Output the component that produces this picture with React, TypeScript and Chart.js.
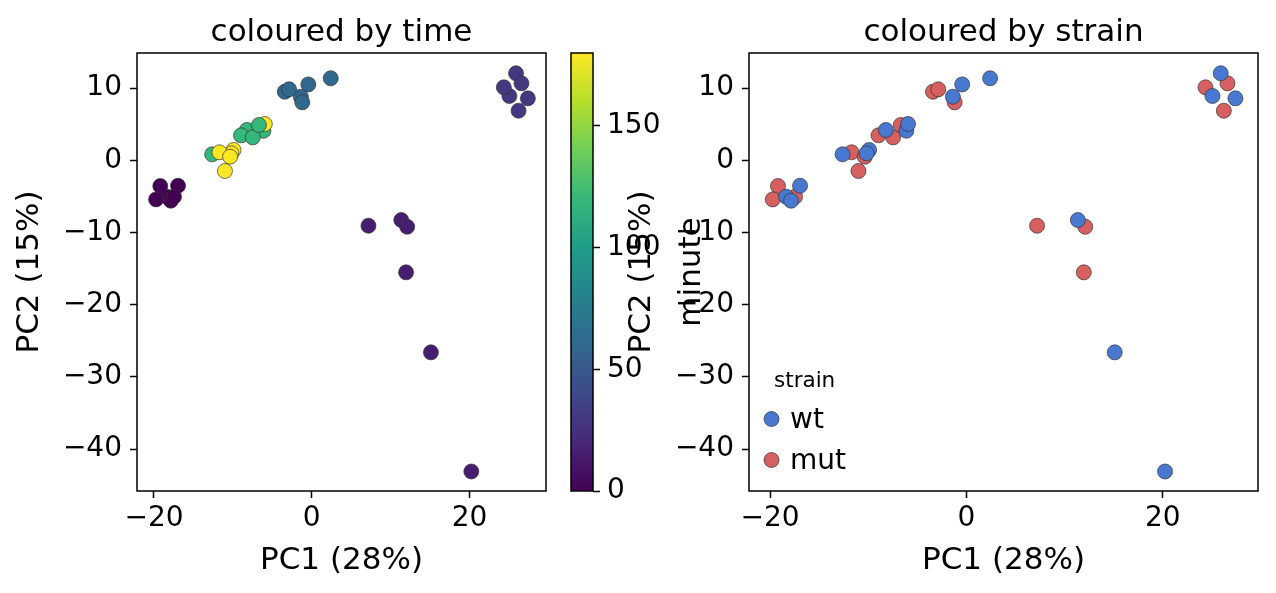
import React, { useEffect, useRef } from "react";
import { Chart, registerables } from "chart.js";

Chart.register(...registerables);

const FONT = "'DejaVu Sans', sans-serif";

// ---- data (36 samples: wt then mut, 3 replicates per time point) ----
const sampleStrain = [
  "wt", "wt", "wt", "wt", "wt", "wt", "wt", "wt", "wt",
  "wt", "wt", "wt", "wt", "wt", "wt", "wt", "wt", "wt",
  "mut", "mut", "mut", "mut", "mut", "mut", "mut", "mut", "mut",
  "mut", "mut", "mut", "mut", "mut", "mut", "mut", "mut", "mut",
];
const sampleMinute = [
  0, 0, 0, 15, 15, 15, 30, 30, 30, 60, 60, 60, 120, 120, 120, 180, 180, 180,
  0, 0, 0, 15, 15, 15, 30, 30, 30, 60, 60, 60, 120, 120, 120, 180, 180, 180,
];
const samplePC1 = [
  -16.95, -18.37, -17.86, 11.35, 15.11, 20.23, 25.9, 25.06, 27.4,
  -0.43, -1.38, 2.41, -12.62, -8.21, -6.12, -5.95, -9.91, -10.18,
  -19.2, -19.73, -17.46, 7.19, 12.1, 11.96, 26.59, 24.35, 26.22,
  -3.41, -2.87, -1.2, -8.96, -7.47, -6.69, -11.7, -10.35, -11.0,
];
const samplePC2 = [
  -3.53, -5.05, -5.6, -8.28, -26.6, -43.1, 12.04, 8.9, 8.57,
  10.5, 8.8, 11.35, 0.82, 4.19, 4.09, 5.02, 1.42, 0.96,
  -3.57, -5.42, -5.05, -9.07, -9.21, -15.52, 10.65, 10.1, 6.86,
  9.49, 9.82, 8.02, 3.45, 3.17, 4.88, 1.1, 0.49, -1.49,
];
const strainNames = ["wt", "mut"];
const strainColors = ["#4878d0", "#d65f5f"];

const xRange = [-22.15, 29.7];
const yRange = [-45.8, 14.85];
const minuteRange = [0, 180];
const xTicks = [-20, 0, 20];
const yTicks = [-40, -30, -20, -10, 0, 10];
const cbarTicks = [0, 50, 100, 150];

const VIRIDIS = ["#440154", "#482878", "#3e4989", "#31688e", "#26828e", "#1f9e89", "#35b779", "#6ece58", "#b5de2b", "#fde725"];

function hexToRgb(h: string) {
  return [parseInt(h.slice(1, 3), 16), parseInt(h.slice(3, 5), 16), parseInt(h.slice(5, 7), 16)];
}
function viridis(t: number) {
  const n = VIRIDIS.length - 1;
  const tt = Math.max(0, Math.min(1, t)) * n;
  const i = Math.min(n - 1, Math.floor(tt));
  const f = tt - i;
  const a = hexToRgb(VIRIDIS[i]);
  const b = hexToRgb(VIRIDIS[i + 1]);
  const c = a.map((v, k) => Math.round(v + (b[k] - v) * f));
  return `rgb(${c[0]},${c[1]},${c[2]})`;
}

const fmt = (v: number) => (v < 0 ? "\u2212" + Math.abs(v) : String(v));

const TICK_SIZE = 28;
const LABEL_SIZE = 31;
const TITLE_SIZE = 31;

const framePlugin = {
  id: "frame",
  afterDraw(chart: any) {
    const { ctx, chartArea: a } = chart;
    ctx.save();
    ctx.strokeStyle = "#000";
    ctx.lineWidth = 1.5;
    ctx.strokeRect(a.left, a.top, a.right - a.left, a.bottom - a.top);
    ctx.restore();
  },
};

function titlePlugin(text: string) {
  return {
    id: "ptitle",
    afterDraw(chart: any) {
      const { ctx, chartArea: a } = chart;
      ctx.save();
      ctx.fillStyle = "#000";
      ctx.font = `${TITLE_SIZE}px ${FONT}`;
      ctx.textAlign = "center";
      ctx.textBaseline = "alphabetic";
      ctx.fillText(text, (a.left + a.right) / 2, a.top - 12);
      ctx.restore();
    },
  };
}

function tickGrid() {
  return {
    display: true,
    drawOnChartArea: false,
    drawTicks: true,
    tickLength: 7,
    tickWidth: 1.5,
    tickColor: "#000",
  };
}

function xScale() {
  return {
    type: "linear",
    bounds: "data",
    min: xRange[0],
    max: xRange[1],
    afterBuildTicks: (s: any) => {
      s.ticks = xTicks.map((v) => ({ value: v }));
    },
    afterFit: (s: any) => {
      s.height = 102;
    },
    grid: tickGrid(),
    border: { display: false },
    ticks: {
      color: "#000",
      font: { family: FONT, size: TICK_SIZE },
      padding: 4,
      maxRotation: 0,
      autoSkip: false,
      callback: (v: number) => fmt(v),
    },
    title: {
      display: true,
      text: "PC1 (28%)",
      color: "#000",
      font: { family: FONT, size: LABEL_SIZE },
      padding: { top: 0, bottom: 13 },
    },
  };
}

function yScale(width: number, titlePad: number) {
  return {
    type: "linear",
    bounds: "data",
    min: yRange[0],
    max: yRange[1],
    afterBuildTicks: (s: any) => {
      s.ticks = yTicks.map((v) => ({ value: v }));
    },
    afterFit: (s: any) => {
      s.width = width;
    },
    grid: tickGrid(),
    border: { display: false },
    ticks: {
      color: "#000",
      font: { family: FONT, size: TICK_SIZE },
      padding: 8,
      autoSkip: false,
      callback: (v: number) => fmt(v),
    },
    title: {
      display: true,
      text: "PC2 (15%)",
      color: "#000",
      font: { family: FONT, size: LABEL_SIZE },
      padding: { top: titlePad, bottom: 0 },
    },
  };
}

const minuteLabelPlugin = {
  id: "minuteLabel",
  afterDraw(chart: any) {
    const { ctx, chartArea: a } = chart;
    ctx.save();
    ctx.fillStyle = "#000";
    ctx.font = `${LABEL_SIZE}px ${FONT}`;
    ctx.translate(a.right + 99, (a.top + a.bottom) / 2);
    ctx.rotate(-Math.PI / 2);
    ctx.textAlign = "center";
    ctx.textBaseline = "middle";
    ctx.fillText("minute", 0, 0);
    ctx.restore();
  },
};

const strainLegendPlugin = {
  id: "strainLegend",
  afterDraw(chart: any) {
    const { ctx, chartArea: a } = chart;
    ctx.save();
    ctx.fillStyle = "#000";
    ctx.textAlign = "left";
    ctx.textBaseline = "alphabetic";
    ctx.font = `21.5px ${FONT}`;
    ctx.fillText("strain", a.left + 25, a.top + 334);
    chart.data.datasets.forEach((ds: any, i: number) => {
      const cy = a.top + 366 + i * 41;
      ctx.beginPath();
      ctx.arc(a.left + 22.5, cy, 7.5, 0, Math.PI * 2);
      ctx.fillStyle = ds.pointBackgroundColor;
      ctx.fill();
      ctx.lineWidth = 0.7;
      ctx.strokeStyle = "#333";
      ctx.stroke();
      ctx.fillStyle = "#000";
      ctx.font = `28px ${FONT}`;
      ctx.fillText(ds.label, a.left + 41, cy + 9);
    });
    ctx.restore();
  },
};

const pointStyle = {
  pointRadius: 7.5,
  pointBorderWidth: 0.7,
  pointBorderColor: "#333",
};

export default function App() {
  const leftRef = useRef<HTMLCanvasElement>(null);
  const cbarRef = useRef<HTMLCanvasElement>(null);
  const rightRef = useRef<HTMLCanvasElement>(null);

  useEffect(() => {
    const charts: Chart[] = [];
    const common = {
      animation: false,
      responsive: false,
      events: [],
      devicePixelRatio: 1,
    };

    // left: coloured by time
    charts.push(
      new Chart(leftRef.current as HTMLCanvasElement, {
        type: "scatter",
        data: {
          datasets: [
            {
              label: "time",
              data: samplePC1.map((x, i) => ({ x, y: samplePC2[i] })),
              pointBackgroundColor: sampleMinute.map((m) => viridis((m - minuteRange[0]) / (minuteRange[1] - minuteRange[0]))),
              ...pointStyle,
            },
          ],
        },
        options: {
          ...common,
          layout: { padding: { top: 53, right: 14, left: 0, bottom: 0 } },
          plugins: { legend: { display: false }, tooltip: { enabled: false } },
          scales: { x: xScale(), y: yScale(137, 11) },
        } as any,
        plugins: [framePlugin, titlePlugin("coloured by time")],
      })
    );

    // colorbar
    charts.push(
      new Chart(cbarRef.current as HTMLCanvasElement, {
        type: "bar",
        data: {
          labels: ["minute"],
          datasets: [
            {
              data: [minuteRange[1]],
              barPercentage: 1,
              categoryPercentage: 1,
              borderWidth: 0,
              backgroundColor: (c: any) => {
                const a = c.chart.chartArea;
                if (!a) return VIRIDIS[0];
                const g = c.chart.ctx.createLinearGradient(0, a.bottom, 0, a.top);
                VIRIDIS.forEach((col, i) => g.addColorStop(i / (VIRIDIS.length - 1), col));
                return g;
              },
            },
          ],
        },
        options: {
          ...common,
          layout: { padding: { top: 53, right: 0, left: 11, bottom: 102 } },
          plugins: { legend: { display: false }, tooltip: { enabled: false } },
          scales: {
            x: { display: false },
            y: {
              position: "right",
              min: minuteRange[0],
              max: minuteRange[1],
              bounds: "data",
              afterBuildTicks: (s: any) => {
                s.ticks = cbarTicks.map((v) => ({ value: v }));
              },
              afterFit: (s: any) => {
                s.width = 127;
              },
              grid: tickGrid(),
              border: { display: false },
              ticks: {
                color: "#000",
                font: { family: FONT, size: TICK_SIZE },
                padding: 7,
                autoSkip: false,
              },
            },
          },
        } as any,
        plugins: [framePlugin, minuteLabelPlugin],
      })
    );

    // right: coloured by strain
    charts.push(
      new Chart(rightRef.current as HTMLCanvasElement, {
        type: "scatter",
        data: {
          datasets: strainNames.map((name, k) => {
            const idx = sampleStrain.map((s, i) => (s === name ? i : -1)).filter((i) => i >= 0);
            return {
              label: name,
              data: idx.map((i) => ({ x: samplePC1[i], y: samplePC2[i] })),
              pointBackgroundColor: strainColors[k],
              ...pointStyle,
            };
          }),
        },
        options: {
          ...common,
          layout: { padding: { top: 53, right: 18, left: 0, bottom: 0 } },
          plugins: { legend: { display: false }, tooltip: { enabled: false } },
          scales: { x: xScale(), y: yScale(149, 23) },
        } as any,
        plugins: [framePlugin, titlePlugin("coloured by strain"), strainLegendPlugin],
      })
    );

    return () => charts.forEach((c) => c.destroy());
  }, []);

  const abs = (left: number, width: number) => ({
    position: "absolute" as const,
    left,
    top: 0,
    width,
    height: 593,
  });

  return (
    <div style={{ position: "absolute", left: 0, top: 0, width: 1276, height: 593, background: "#fff", overflow: "hidden" }}>
      <canvas ref={leftRef} width={560} height={593} style={abs(0, 560)} />
      <canvas ref={cbarRef} width={160} height={593} style={abs(560, 160)} />
      <canvas ref={rightRef} width={676} height={593} style={abs(600, 676)} />
    </div>
  );
}
